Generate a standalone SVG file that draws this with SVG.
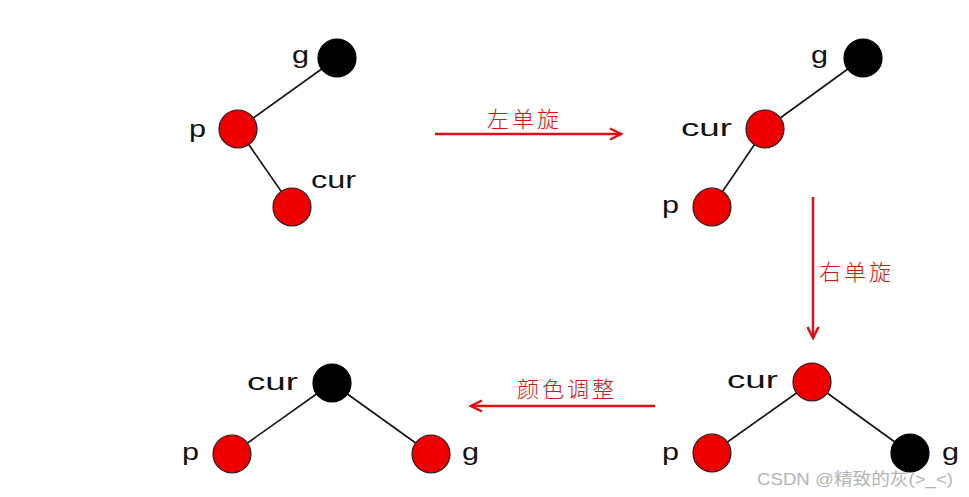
<svg xmlns="http://www.w3.org/2000/svg" width="969" height="497" viewBox="0 0 969 497">
<defs>
<style>
.red{fill:#ee0000;stroke:#222;stroke-width:1.2}
.blk{fill:#000;stroke:#000;stroke-width:1.2}
.edge{stroke:#111;stroke-width:1.6;fill:none}
.arr{stroke:#dd1111;stroke-width:2.5;fill:none}
.lbl{font-family:"Liberation Sans",Arial,sans-serif;font-size:24px;fill:#111}
.cn{font-family:"Noto Sans CJK SC",sans-serif;font-size:22px;fill:#dd1111;font-weight:300;letter-spacing:3px}
.wm{font-family:"Liberation Sans","Noto Sans CJK SC",sans-serif;font-size:17px;fill:#b4b4b4}
</style>
<marker id="ah" viewBox="0 0 14 14" refX="12" refY="7" markerWidth="14" markerHeight="14" markerUnits="userSpaceOnUse" orient="auto">
<polyline points="1,1.5 12,7 1,12.5" fill="none" stroke="#dd1111" stroke-width="2.5"/>
</marker>
</defs>
<rect width="969" height="497" fill="#fff"/>
<g id="connectors">
<line class="edge" x1="337" y1="58" x2="238" y2="129"/>
<line class="edge" x1="238" y1="129" x2="292" y2="207"/>
<line class="edge" x1="863" y1="58" x2="765" y2="129"/>
<line class="edge" x1="765" y1="129" x2="712" y2="207"/>
<line class="edge" x1="332" y1="383" x2="232" y2="454"/>
<line class="edge" x1="332" y1="383" x2="431" y2="454"/>
<line class="edge" x1="812" y1="382" x2="712" y2="453"/>
<line class="edge" x1="812" y1="382" x2="910" y2="453"/>
<line class="arr" x1="435" y1="134" x2="621" y2="134" marker-end="url(#ah)"/>
<line class="arr" x1="813" y1="197" x2="813" y2="338" marker-end="url(#ah)"/>
<line class="arr" x1="655" y1="406" x2="471" y2="406" marker-end="url(#ah)"/>
<text class="cn" x="487" y="127">左单旋</text>
<text class="cn" x="819" y="280">右单旋</text>
<text class="cn" x="517" y="397">颜色调整</text>
</g>
<g id="t1-g"><circle class="blk" cx="337" cy="58" r="19"/><text class="lbl" x="292" y="63" textLength="17" lengthAdjust="spacingAndGlyphs">g</text></g>
<g id="t1-p"><circle class="red" cx="238" cy="129" r="19"/><text class="lbl" x="189" y="137" textLength="17" lengthAdjust="spacingAndGlyphs">p</text></g>
<g id="t1-cur"><circle class="red" cx="292" cy="207" r="19"/><text class="lbl" x="311" y="188" textLength="45" lengthAdjust="spacingAndGlyphs">cur</text></g>
<g id="t2-g"><circle class="blk" cx="863" cy="58" r="19"/><text class="lbl" x="811" y="63" textLength="17" lengthAdjust="spacingAndGlyphs">g</text></g>
<g id="t2-cur"><circle class="red" cx="765" cy="129" r="19"/><text class="lbl" x="681" y="136" textLength="51" lengthAdjust="spacingAndGlyphs">cur</text></g>
<g id="t2-p"><circle class="red" cx="712" cy="207" r="19"/><text class="lbl" x="662" y="213" textLength="17" lengthAdjust="spacingAndGlyphs">p</text></g>
<g id="t3-cur"><circle class="red" cx="812" cy="382" r="19"/><text class="lbl" x="727" y="388" textLength="51" lengthAdjust="spacingAndGlyphs">cur</text></g>
<g id="t3-p"><circle class="red" cx="712" cy="453" r="19"/><text class="lbl" x="662" y="460" textLength="17" lengthAdjust="spacingAndGlyphs">p</text></g>
<g id="t3-g"><circle class="blk" cx="910" cy="453" r="19"/><text class="lbl" x="942" y="460" textLength="17" lengthAdjust="spacingAndGlyphs">g</text></g>
<g id="t4-cur"><circle class="blk" cx="332" cy="383" r="19"/><text class="lbl" x="247" y="390" textLength="51" lengthAdjust="spacingAndGlyphs">cur</text></g>
<g id="t4-p"><circle class="red" cx="232" cy="454" r="19"/><text class="lbl" x="182" y="460" textLength="17" lengthAdjust="spacingAndGlyphs">p</text></g>
<g id="t4-g"><circle class="red" cx="431" cy="454" r="19"/><text class="lbl" x="462" y="460" textLength="17" lengthAdjust="spacingAndGlyphs">g</text></g>
<text class="wm" x="757" y="485" textLength="196" lengthAdjust="spacingAndGlyphs">CSDN @精致的灰(&gt;_&lt;)</text>
</svg>
